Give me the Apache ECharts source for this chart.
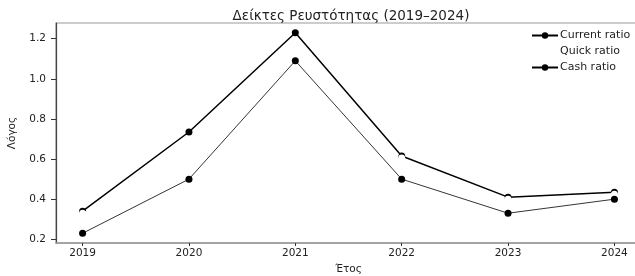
<!DOCTYPE html>
<html>
<head>
<meta charset="utf-8">
<script src="https://cdn.jsdelivr.net/npm/echarts@6/dist/echarts.min.js"></script>
<style>
  html, body { margin: 0; padding: 0; background: #fff; }
  #chart { width: 635px; height: 276px; }
</style>
</head>
<body>
<div id="chart"></div>
<script>
// data
var years = [2019, 2020, 2021, 2022, 2023, 2024];
var currentRatio = [0.34, 0.735, 1.23, 0.615, 0.41, 0.435];
var quickRatio = [0.33, 0.62, 1.15, 0.605, 0.40, 0.425];
var cashRatio = [0.23, 0.50, 1.09, 0.50, 0.33, 0.40];
var yTicks = [0.2, 0.4, 0.6, 0.8, 1.0, 1.2];

function pairs(vals) {
    return years.map(function (y, i) { return [y, vals[i]]; });
}

var font = 'DejaVu Sans';
var chart = echarts.init(document.getElementById('chart'));
var option = {
    animation: false,
    textStyle: { fontFamily: font },
    title: {
        text: 'Δείκτες Ρευστότητας (2019–2024)',
        left: 346,
        textAlign: 'center',
        top: 4,
        textStyle: { fontFamily: font, fontSize: 13.5, fontWeight: 'normal', color: '#222' }
    },
    legend: {
        orient: 'vertical',
        left: 526,
        top: 25,
        itemWidth: 26,
        itemHeight: 8,
        itemGap: 5,
        textStyle: { fontFamily: font, fontSize: 11, color: '#222', padding: [0, 0, 0, -3] },
        data: ['Current ratio', 'Quick ratio', 'Cash ratio']
    },
    grid: {
        left: 56, right: -6, top: 23, bottom: 33,
        outerBoundsMode: 'none',
        containLabel: false,
        show: true, borderColor: '#999', borderWidth: 1.2
    },
    xAxis: {
        type: 'value',
        min: 2018.75,
        max: 2024.25,
        name: 'Έτος',
        nameLocation: 'middle',
        nameGap: 17,
        nameTextStyle: { fontFamily: font, fontSize: 10.5, color: '#222' },
        axisLine: { show: true, lineStyle: { color: '#999', width: 1.5 } },
        axisTick: { show: true, customValues: years, length: 3, lineStyle: { color: '#333' } },
        axisLabel: { customValues: years, fontSize: 10.5, color: '#222', margin: 5,
            formatter: function (v) { return String(v); } },
        splitLine: { show: false }
    },
    yAxis: {
        type: 'value',
        min: 0.1815,
        max: 1.2785,
        name: 'Λόγος',
        nameLocation: 'middle',
        nameGap: 38,
        nameTextStyle: { fontFamily: font, fontSize: 10.5, color: '#222' },
        axisLine: { show: true, lineStyle: { color: '#444', width: 1.2 } },
        axisTick: { show: true, customValues: yTicks, length: 5, lineStyle: { color: '#333' } },
        axisLabel: { customValues: yTicks, fontSize: 10.5, color: '#222', margin: 10,
            formatter: function (v) { return v.toFixed(1); } },
        splitLine: { show: false }
    },
    series: [
        {
            name: 'Current ratio',
            type: 'line',
            data: pairs(currentRatio),
            symbol: 'circle',
            symbolSize: 7,
            color: '#000',
            lineStyle: { color: '#000', width: 1.5 },
            itemStyle: { color: '#000' },
            z: 2
        },
        {
            name: 'Quick ratio',
            type: 'line',
            data: pairs(quickRatio),
            symbol: 'circle',
            symbolSize: 7,
            color: '#fff',
            lineStyle: { color: '#fff', width: 1 },
            itemStyle: { color: '#fff' },
            z: 3
        },
        {
            name: 'Cash ratio',
            type: 'line',
            data: pairs(cashRatio),
            symbol: 'circle',
            symbolSize: 7,
            color: '#000',
            lineStyle: { color: '#000', width: 0.8 },
            itemStyle: { color: '#000' },
            z: 4
        }
    ]
};
chart.setOption(option);
</script>
</body>
</html>
